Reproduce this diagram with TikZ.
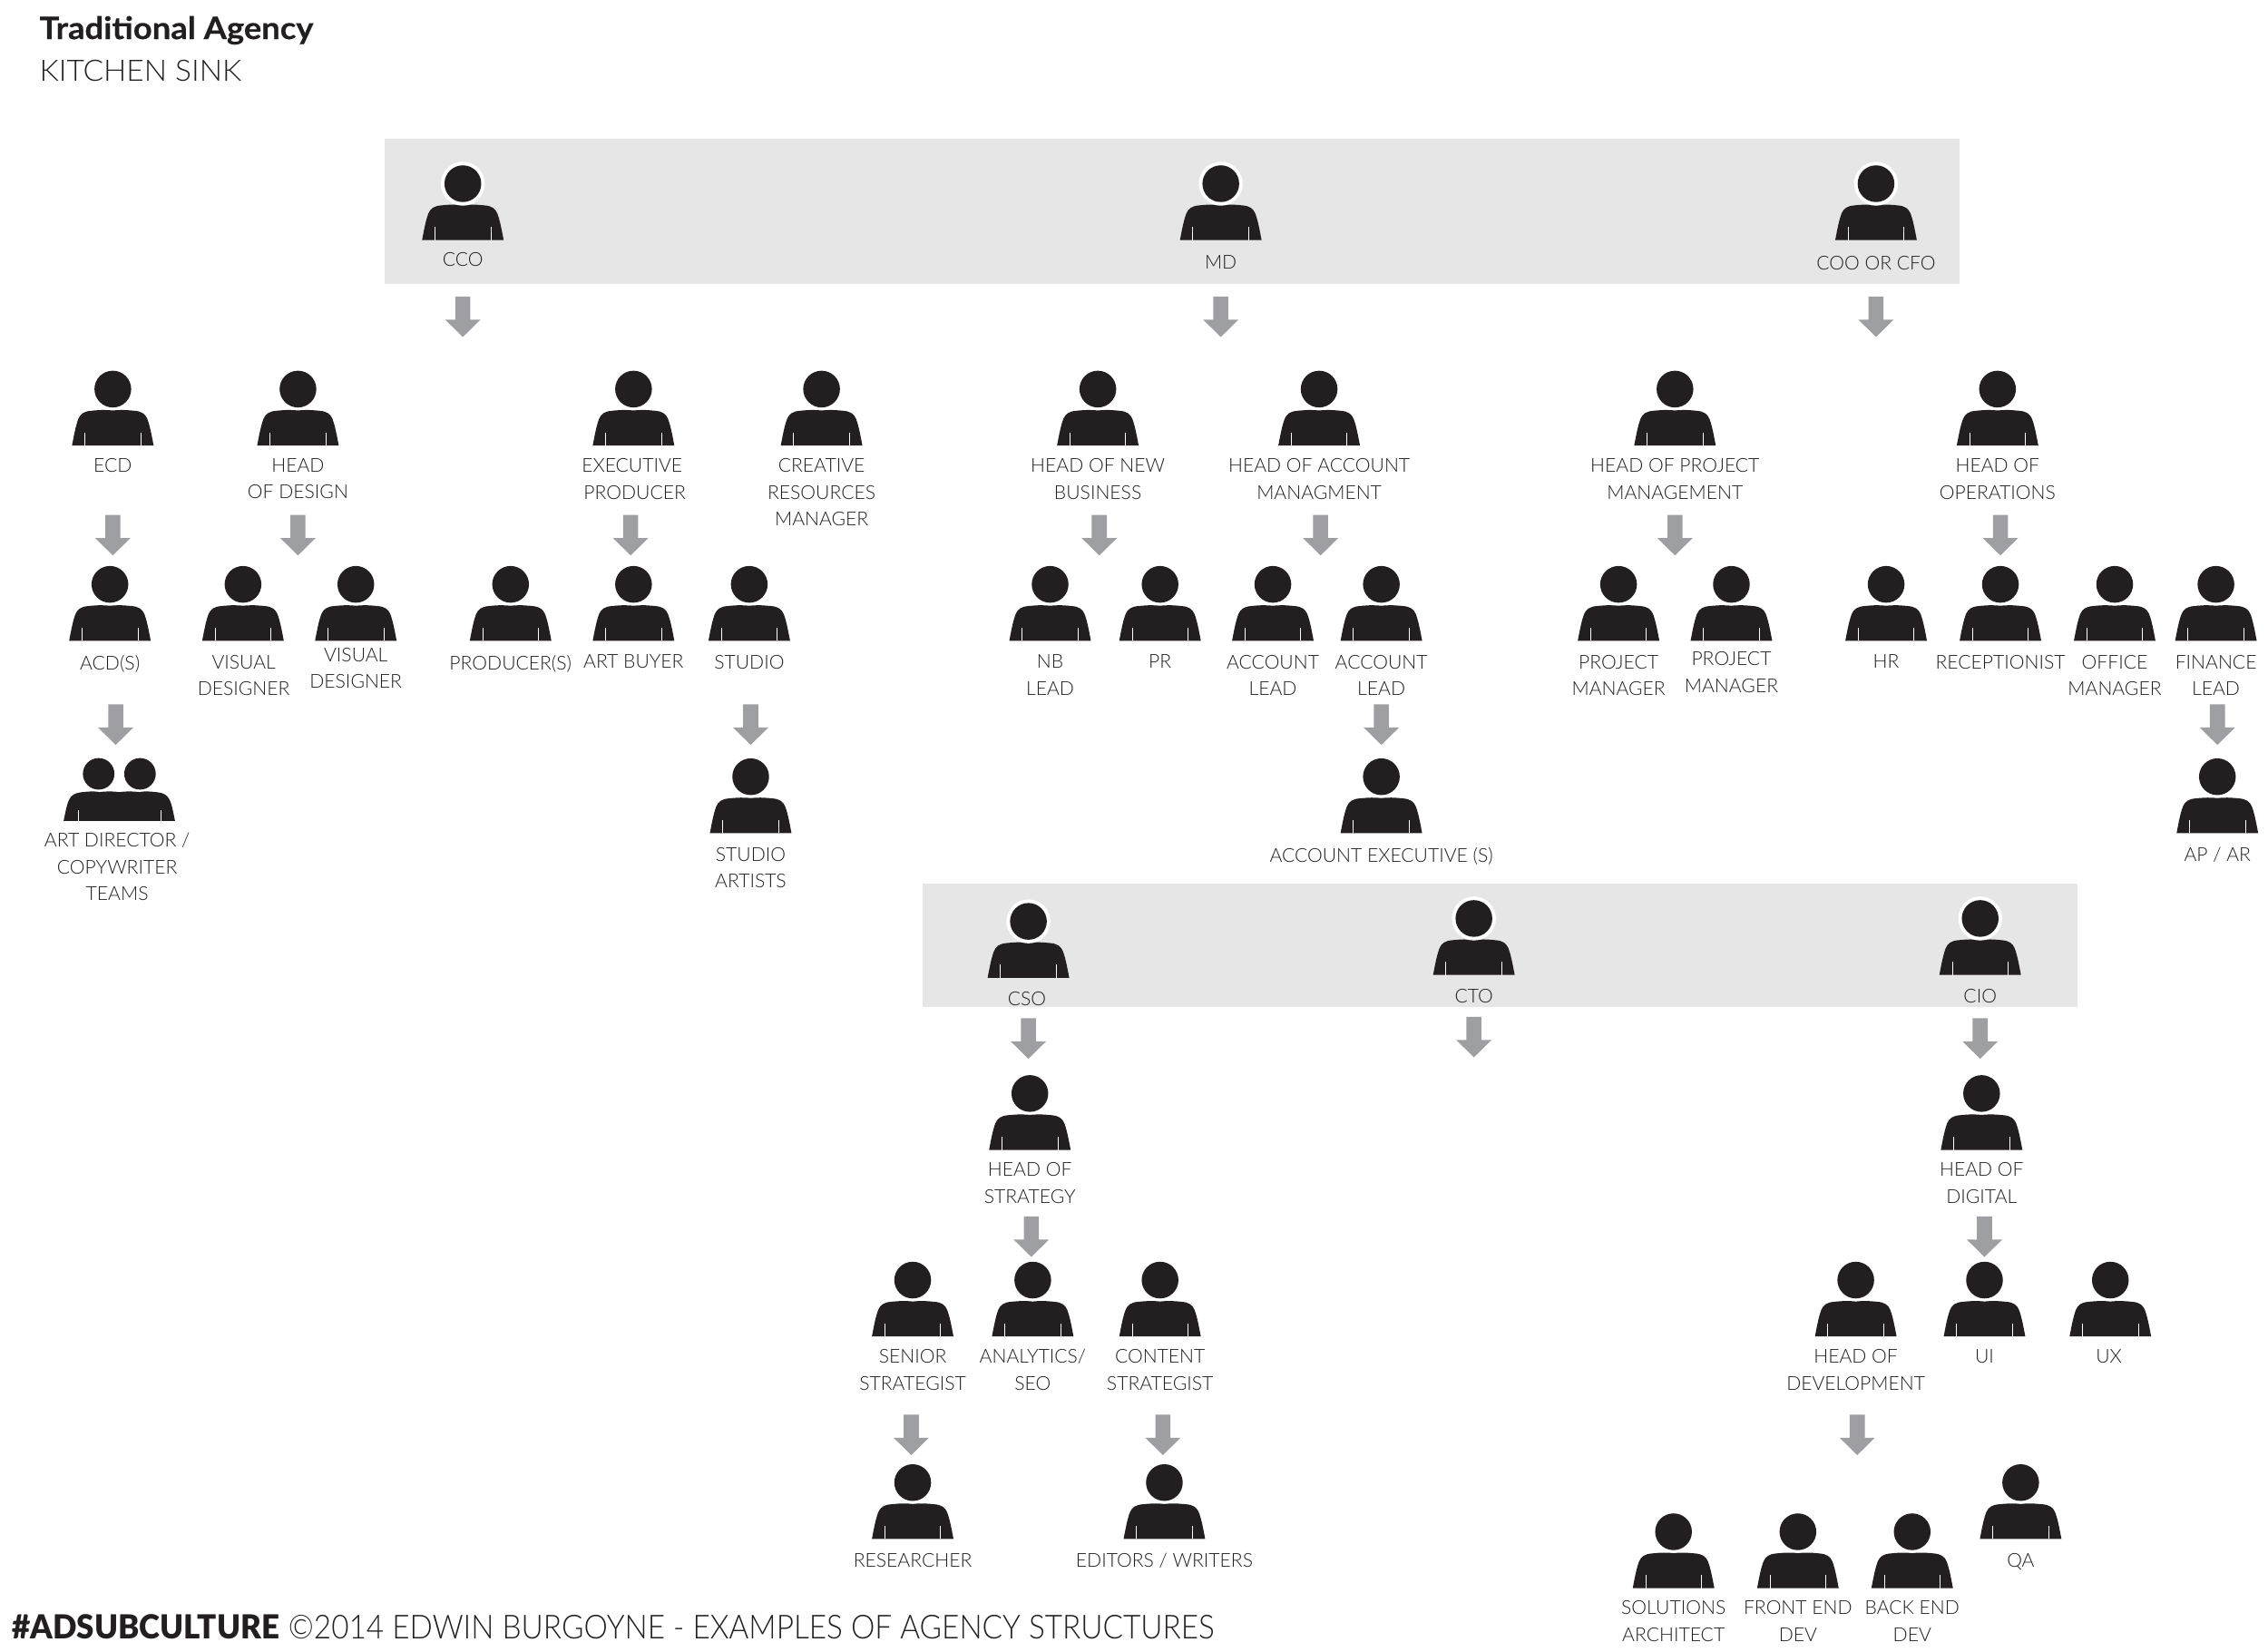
\documentclass[tikz,border=0pt]{standalone}
\usepackage{fontspec}
\setmainfont{Lato Light}[BoldFont=Lato Bold]
\newfontfamily\titlefont{Lato Bold}[FakeStretch=1.07,FakeBold=0.4]
\newfontfamily\subfont{Lato Light}[FakeStretch=1.03]
\newfontfamily\tagfont{Lato Black}[FakeStretch=0.955]
\newfontfamily\footfont{Lato Light}[FakeStretch=0.913]
\definecolor{ink}{HTML}{231F20}
\definecolor{band}{HTML}{E6E6E6}
\definecolor{arrowgrey}{HTML}{9D9FA2}
\tikzset{
  lab/.style={font=\fontsize{8.45}{11.9}\selectfont,text=ink,align=center,inner sep=0pt,anchor=north,yshift=2.85pt},
  head/.pic={\fill[ink] (0,0) circle (12.7);},
  torso/.pic={
    \fill[ink] (-28.2,39) .. controls (-26.5,30) and (-25.5,25) .. (-23.8,20.5) .. controls (-22.4,17.2) and (-20,15.4) .. (-15,15)
      .. controls (-8,14.3) and (-5,14.3) .. (0,14.8) .. controls (5,14.3) and (8,14.3) .. (15,15)
      .. controls (20,15.4) and (22.4,17.2) .. (23.8,20.5) .. controls (25.5,25) and (26.5,30) .. (28.2,39) -- cycle;
    \draw[white,line width=0.35pt] (-19.3,30) -- (-19.3,39) (19.3,30) -- (19.3,39);
  },
  person/.pic={\pic {torso}; \pic {head};},
  ringperson/.pic={\pic {torso}; \fill[white] (0,0) circle (15.2); \pic {head};},
  teampair/.pic={
    \fill[ink] (-14.3,0) circle (10.9) (14.3,0) circle (10.9);
    \fill[ink] (-38.5,32.6) .. controls (-37,25) and (-36,20) .. (-34.5,17.5) .. controls (-33,14.5) and (-30,13) .. (-26,12.7)
      .. controls (-20,12) and (-16,12) .. (-14,12.6) .. controls (-8,12) and (-4,12) .. (0,12.7) .. controls (4,12) and (8,12) .. (14,12.6)
      .. controls (16,12) and (20,12) .. (26,12.7) .. controls (30,13) and (33,14.5) .. (34.5,17.5) .. controls (36,20) and (37,25) .. (38.5,32.6) -- cycle;
    \draw[white,line width=0.35pt] (-28.6,25) -- (-28.6,32.6) (28.6,25) -- (28.6,32.6);
  },
  blockarrow/.pic={\fill[arrowgrey] (-5.2,0) -- (5.2,0) -- (5.2,16) -- (12.2,16) -- (0,28) -- (-12.2,16) -- (-5.2,16) -- cycle;},
}
\newcommand\pers[6]{\pic (#1) at (#2,#3) {person}; \node[lab] (#1-l) at (#4,#5) {#6};}
\newcommand\rpers[6]{\pic (#1) at (#2,#3) {ringperson}; \node[lab] (#1-l) at (#4,#5) {#6};}
\newcommand\arr[3]{\pic (#1) at (#2,#3) {blockarrow};}
\begin{document}
\begin{tikzpicture}[x=0.63776pt,y=-0.63776pt]
\useasboundingbox (0,0) rectangle (1568,1142.1);
\fill[band] (266,96) rectangle (1355,196);
\fill[band] (638,611) rectangle (1436,696);
\node[anchor=base west,inner sep=0pt,text=ink,font=\fontsize{13.6}{15}\selectfont\titlefont] (title) at (27,27) {Traditional Agency};
\node[anchor=base west,inner sep=0pt,text=ink,font=\fontsize{13}{15}\selectfont\subfont] (sub) at (27,56) {KITCHEN SINK};
\node[anchor=base west,inner sep=0pt,text=ink,font=\fontsize{14.6}{16}\selectfont] (foot) at (8,1133) {{\tagfont\#ADSUBCULTURE} {\footfont ©2014 EDWIN BURGOYNE - EXAMPLES OF AGENCY STRUCTURES}};
% top band
\rpers{cco}{320}{127}{320}{179}{CCO}
\rpers{md}{844}{127}{844}{181}{MD}
\rpers{coo}{1297}{127}{1297}{181}{COO OR CFO}
\arr{a1}{320}{205}\arr{a2}{844}{205}\arr{a3}{1297}{205}
% row 1
\pers{ecd}{78}{269}{78}{321}{ECD}
\pers{hod}{206}{269}{206}{321}{HEAD\\OF DESIGN}
\pers{ep}{438}{269}{437}{321}{EXECUTIVE\\\ PRODUCER}
\pers{crm}{568}{269}{568}{321}{CREATIVE\\RESOURCES\\MANAGER}
\pers{honb}{759}{269}{759}{321}{HEAD OF NEW\\BUSINESS}
\pers{hoa}{912}{269}{912}{321}{HEAD OF ACCOUNT\\MANAGMENT}
\pers{hop}{1158}{269}{1158}{321}{HEAD OF PROJECT\\MANAGEMENT}
\pers{hoo}{1381}{269}{1381}{321}{HEAD OF\\OPERATIONS}
\arr{a4}{78}{356}\arr{a5}{206}{356}\arr{a6}{436}{356}\arr{a7}{760}{356}\arr{a8}{913}{356}\arr{a9}{1158}{356}\arr{a10}{1383}{356}
% row 2
\pers{acd}{76}{404}{76}{457}{ACD(S)}
\pers{vd1}{168}{404}{168.5}{457}{VISUAL\\DESIGNER}
\pers{vd2}{246}{404}{246}{452}{VISUAL\\DESIGNER}
\pers{prod}{353}{404}{353}{457}{PRODUCER(S)}
\pers{ab}{438}{404}{438}{457}{ART BUYER}
\pers{studio}{518}{404}{518}{457}{STUDIO}
\pers{nb}{726}{404}{726}{457}{NB\\LEAD}
\pers{pr}{802}{404}{802}{457}{PR}
\pers{al1}{880}{404}{880}{457}{ACCOUNT\\LEAD}
\pers{al2}{955}{404}{955}{457}{ACCOUNT\\LEAD}
\pers{pm1}{1119}{404}{1119}{457}{PROJECT\\MANAGER}
\pers{pm2}{1197}{404}{1197}{455}{PROJECT\\MANAGER}
\pers{hr}{1304}{404}{1304}{457}{HR}
\pers{rec}{1383}{404}{1383}{457}{RECEPTIONIST}
\pers{om}{1462}{404}{1462}{457}{OFFICE\\MANAGER}
\pers{fl}{1532}{404}{1532}{457}{FINANCE\\LEAD}
\arr{a11}{80}{487}\arr{a12}{519}{487}\arr{a13}{955}{487}\arr{a14}{1533}{487}
% row 3
\pic (teams) at (82.5,535) {teampair};
\node[lab] (teams-l) at (81,580) {ART DIRECTOR /\\COPYWRITER\\TEAMS};
\pers{sa}{519}{537}{519}{590}{STUDIO\\ARTISTS}
\pers{ae}{955}{537}{955}{590}{ACCOUNT EXECUTIVE (S)}
\pers{ap}{1533}{537}{1533}{590}{AP / AR}
% second band
\rpers{cso}{711}{637}{710}{690}{CSO}
\rpers{cto}{1019}{635}{1019}{688}{CTO}
\rpers{cio}{1369}{635}{1369}{688}{CIO}
\arr{a15}{711}{704}\arr{a16}{1019}{703}\arr{a17}{1369}{704}
\pers{hos}{712}{756}{712}{808}{HEAD OF\\STRATEGY}
\pers{hodg}{1370}{756}{1370}{808}{HEAD OF\\DIGITAL}
\arr{a18}{713}{841}\arr{a19}{1372}{841}
\pers{ss}{631}{885}{631}{937}{SENIOR\\STRATEGIST}
\pers{seo}{714}{885}{714}{937}{ANALYTICS/\\SEO}
\pers{cs}{802}{885}{802}{937}{CONTENT\\STRATEGIST}
\pers{hodv}{1283}{885}{1283}{937}{HEAD OF\\DEVELOPMENT}
\pers{ui}{1372}{885}{1372}{937}{UI}
\pers{ux}{1459}{885}{1458}{937}{UX}
\arr{a20}{630}{978}\arr{a21}{804}{978}\arr{a22}{1284}{978}
\pers{res}{631}{1025}{631}{1078}{RESEARCHER}
\pers{ew}{805}{1025}{805}{1078}{EDITORS / WRITERS}
\pers{qa}{1397}{1025}{1397}{1078}{QA}
\pers{sol}{1157}{1059}{1157}{1111}{SOLUTIONS\\ARCHITECT}
\pers{fe}{1243}{1059}{1243}{1111}{FRONT END\\DEV}
\pers{be}{1322}{1059}{1322}{1111}{BACK END\\DEV}
\end{tikzpicture}
\end{document}
